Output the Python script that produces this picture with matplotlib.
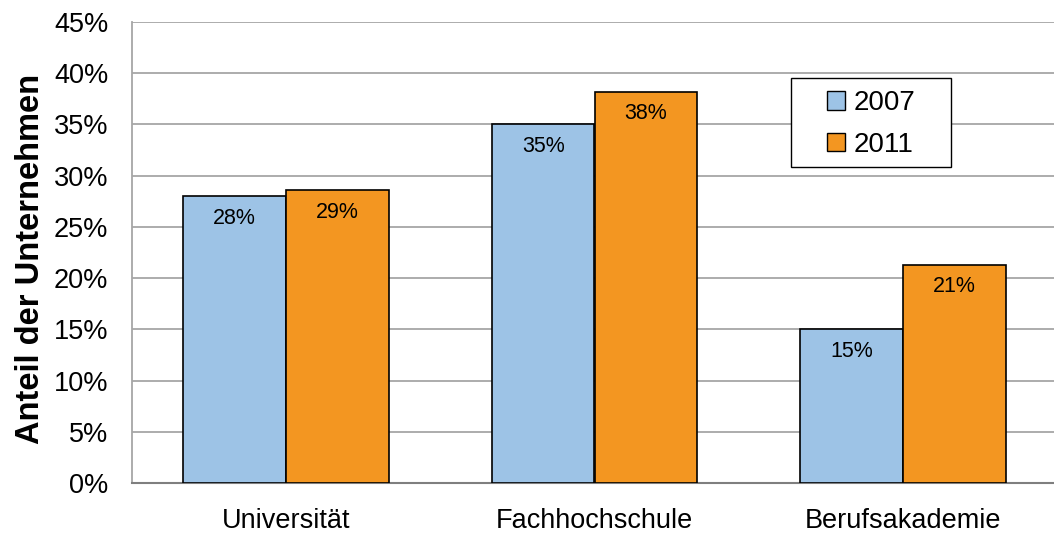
import numpy as np
import matplotlib
matplotlib.use('Agg')
import matplotlib.pyplot as plt
from matplotlib.patches import Patch, Rectangle

plt.rcParams['font.family'] = ['Liberation Sans', 'DejaVu Sans']

# data
categories = ['Universität', 'Fachhochschule', 'Berufsakademie']
years = ['2007', '2011']
values_2007 = [28.0, 35.0, 15.0]
values_2011 = [28.6, 38.2, 21.3]
labels_2007 = ['28%', '35%', '15%']
labels_2011 = ['29%', '38%', '21%']
yticks = [0, 5, 10, 15, 20, 25, 30, 35, 40, 45]

blue = '#9DC3E6'
orange = '#F39621'

fig = plt.figure(figsize=(10.54, 5.36), dpi=100)
ax = fig.add_axes([132 / 1054, 53 / 536, 925 / 1054, 461 / 536])

x = np.arange(len(categories))
w = 1 / 3
b1 = ax.bar(x - w / 2, values_2007, w, color=blue, edgecolor='black', linewidth=1.2, zorder=3)
b2 = ax.bar(x + w / 2, values_2011, w, color=orange, edgecolor='black', linewidth=1.2, zorder=3)

# value labels inside bar tops
for bars, labs in ((b1, labels_2007), (b2, labels_2011)):
    for rect, lab in zip(bars, labs):
        ax.annotate(lab, (rect.get_x() + rect.get_width() / 2, rect.get_height()),
                    xytext=(0, -22), textcoords='offset pixels',
                    ha='center', va='center', fontsize=15.5, zorder=4)

ax.set_xlim(-0.5, 2.5)
ax.set_ylim(0, 45)
ax.set_yticks(yticks)
ax.set_yticklabels([f'{t}%' for t in yticks], fontsize=19.5)
ax.set_xticks(x)
ax.set_xticklabels(categories, fontsize=19.5)
ax.tick_params(axis='y', length=0, pad=17)
ax.tick_params(axis='x', length=0, pad=18)

ax.yaxis.grid(True, color='#A6A6A6', linewidth=1.3, zorder=0)
ax.set_axisbelow(True)
for s in ('top', 'right'):
    ax.spines[s].set_visible(False)
ax.spines['left'].set_color('#A6A6A6')
ax.spines['left'].set_linewidth(1.3)
ax.spines['bottom'].set_color('#7F7F7F')
ax.spines['bottom'].set_linewidth(1.5)

ax.set_ylabel('Anteil der Unternehmen', fontsize=23.5, fontweight='bold')
ax.yaxis.set_label_coords(-(132 - 46) / 925, (483 - 259) / 461)

# legend box drawn separately so the entries sit centred
ax.add_patch(Rectangle(((791 - 132) / 925, (483 - 167) / 461), 160 / 925, 89 / 461,
                       transform=ax.transAxes, facecolor='white', edgecolor='black',
                       linewidth=1, zorder=5))
handles = [Patch(facecolor=blue, edgecolor='black', linewidth=1),
           Patch(facecolor=orange, edgecolor='black', linewidth=1)]
leg = ax.legend(handles, years, fontsize=20, loc='center',
                bbox_to_anchor=((871 - 132) / 925, (483 - 124) / 461),
                frameon=False, handlelength=0.65, handleheight=0.65,
                handletextpad=0.3, borderpad=0, labelspacing=0.55, borderaxespad=0)
leg.set_zorder(6)

fig.savefig('out.png', dpi=100)
